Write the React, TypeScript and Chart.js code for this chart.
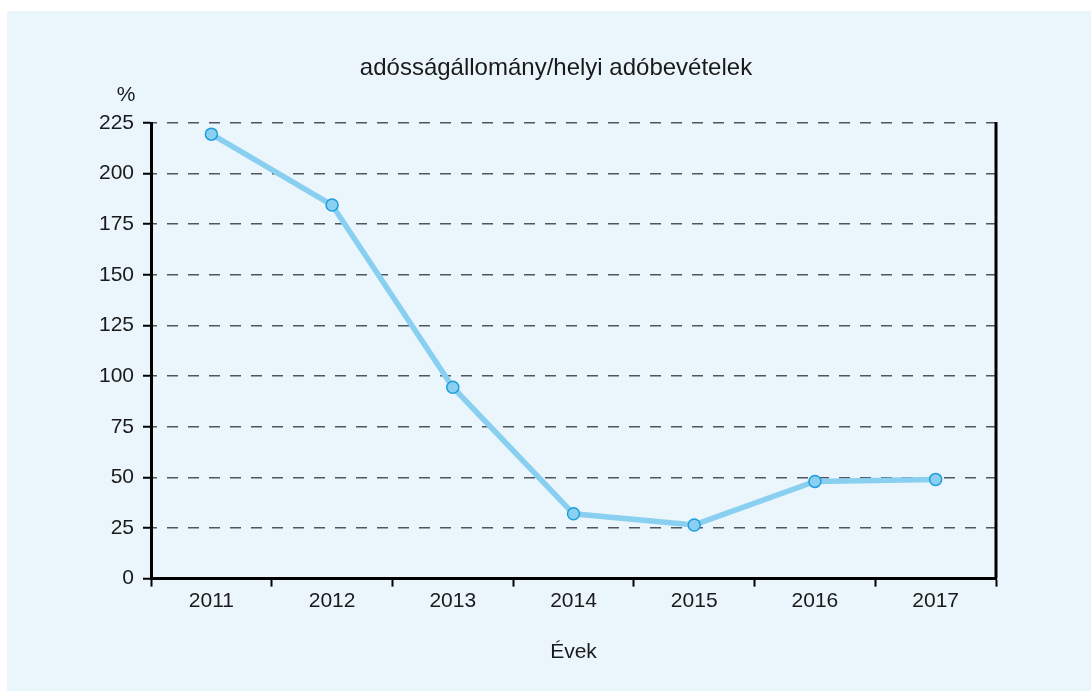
import React, { useEffect, useRef } from "react";
import { Chart, registerables } from "chart.js";

Chart.register(...registerables);

const years = ["2011", "2012", "2013", "2014", "2015", "2016", "2017"];
const ratioValues = [219.5, 184.5, 94.5, 32, 26.5, 48, 49];
const titleText = "adósságállomány/helyi adóbevételek";
const yUnitText = "%";
const xAxisTitle = "Évek";

const FONT = "'Liberation Sans', Arial, sans-serif";

const panelPlugin = {
  id: "panelBg",
  beforeDraw(chart: any) {
    const ctx = chart.ctx;
    ctx.save();
    ctx.fillStyle = "#ffffff";
    ctx.fillRect(0, 0, chart.width, chart.height);
    ctx.fillStyle = "#EAF5FC";
    ctx.fillRect(7, 11, chart.width - 7, chart.height - 11);
    ctx.restore();
  },
  afterDraw(chart: any) {
    const ctx = chart.ctx;
    const area = chart.chartArea;
    ctx.save();
    ctx.strokeStyle = "#000";
    ctx.lineWidth = 3;
    ctx.beginPath();
    ctx.moveTo(area.right, area.top - 1);
    ctx.lineTo(area.right, area.bottom);
    ctx.stroke();
    ctx.fillStyle = "#1a1a1a";
    ctx.font = `24px ${FONT}`;
    ctx.textAlign = "center";
    ctx.textBaseline = "middle";
    ctx.fillText(titleText, 556, 68);
    ctx.font = `21px ${FONT}`;
    ctx.fillText(yUnitText, 126, 95);
    ctx.restore();
  },
};

export default function App() {
  const ref = useRef<HTMLCanvasElement>(null);
  useEffect(() => {
    const chart = new Chart(ref.current as HTMLCanvasElement, {
      type: "line",
      data: {
        labels: years,
        datasets: [
          {
            data: ratioValues,
            borderColor: "#89D0F0",
            borderWidth: 5.5,
            backgroundColor: "#8CD0F1",
            pointBackgroundColor: "#8CD0F1",
            pointBorderColor: "#1E9EDE",
            pointBorderWidth: 1.5,
            pointRadius: 6,
            tension: 0,
          },
        ],
      },
      options: {
        responsive: false,
        animation: false,
        layout: { padding: { top: 123, right: 95, left: 0, bottom: 22 } },
        plugins: { legend: { display: false }, title: { display: false }, tooltip: { enabled: false } },
        scales: {
          x: {
            offset: true,
            grid: {
              offset: true,
              drawOnChartArea: false,
              drawTicks: true,
              tickLength: 8,
              tickColor: "#000",
              tickWidth: 2,
              color: "#000",
            },
            border: { display: true, color: "#000", width: 3 },
            ticks: { color: "#1a1a1a", font: { family: FONT, size: 21 }, padding: 2, maxRotation: 0 },
            title: {
              display: true,
              text: xAxisTitle,
              color: "#1a1a1a",
              font: { family: FONT, size: 21 },
              padding: { top: 24, bottom: 4 },
            },
          },
          y: {
            min: 0,
            max: 225,
            afterFit(scale: any) {
              scale.width = 151;
            },
            grid: {
              color: "#4F575E",
              lineWidth: 1.5,
              tickLength: 8,
              tickColor: "#000",
              tickWidth: 2,
              tickBorderDash: [],
            },
            border: { display: true, color: "#000", width: 3, dash: [11, 10], dashOffset: 7 },
            ticks: {
              stepSize: 25,
              color: "#1a1a1a",
              font: { family: FONT, size: 21 },
              padding: 9,
            },
          },
        },
      },
      plugins: [panelPlugin],
    });
    return () => chart.destroy();
  }, []);
  return (
    <div style={{ position: "absolute", left: 0, top: 0, width: 1091, height: 691 }}>
      <canvas ref={ref} width={1091} height={691} style={{ width: 1091, height: 691, display: "block" }} />
    </div>
  );
}
